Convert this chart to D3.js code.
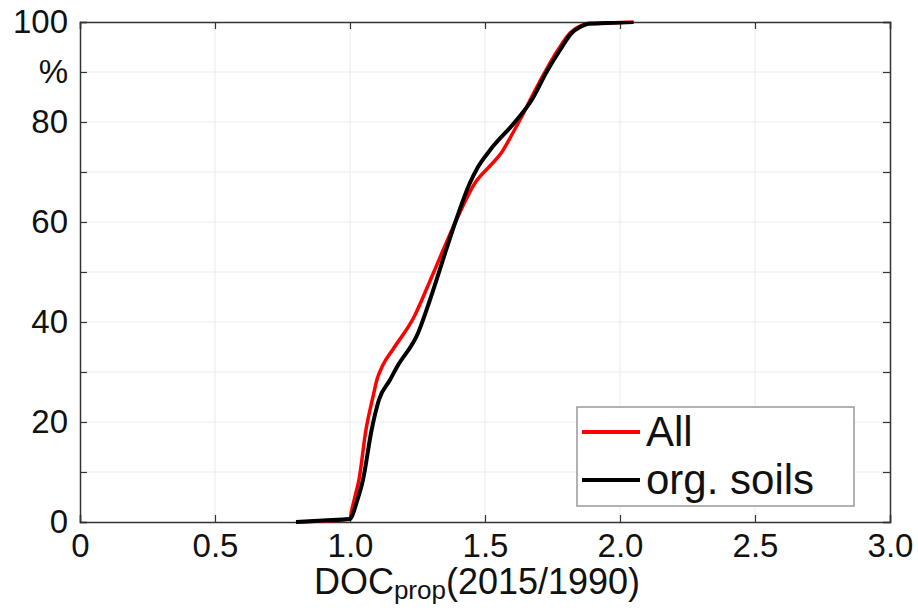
<!DOCTYPE html>
<html>
<head>
<meta charset="utf-8">
<script src="https://cdn.jsdelivr.net/npm/d3@7"></script>
<style>
  body { margin: 0; background: #fff; }
  text { font-family: "Liberation Sans", Arial, sans-serif; fill: #111; }
</style>
</head>
<body>
<svg id="chart" width="918" height="613"></svg>
<script>
// data: x = DOCprop, y = cumulative %
var allX = [0.80, 0.90, 1.00, 1.005, 1.018, 1.033, 1.059, 1.085, 1.10, 1.12, 1.16, 1.237, 1.293, 1.345, 1.389, 1.463, 1.52, 1.56, 1.60, 1.64, 1.667, 1.722, 1.77, 1.815, 1.845, 1.88, 1.95, 2.05];
var allY = [0, 0.2, 0.6, 2, 5, 8.4, 18.4, 25, 28.5, 31.2, 34.6, 41, 47.8, 54.4, 59.8, 67.8, 71.3, 73.8, 77.5, 81.5, 84.4, 90, 94.4, 97.8, 99, 99.6, 99.8, 100];

var orgX = [0.80, 0.90, 1.00, 1.01, 1.025, 1.048, 1.08, 1.107, 1.148, 1.174, 1.252, 1.296, 1.356, 1.389, 1.444, 1.474, 1.519, 1.611, 1.673, 1.728, 1.778, 1.821, 1.852, 1.889, 1.95, 2.05];
var orgY = [0, 0.3, 0.6, 1.5, 4, 8.4, 18.4, 24.4, 28.4, 31, 37.8, 44.4, 54.4, 59.8, 67.8, 71, 74.4, 80, 84.4, 90, 94.4, 97.8, 99, 99.7, 99.8, 100];

var xTicks = [0, 0.5, 1.0, 1.5, 2.0, 2.5, 3.0];
var xTickLabels = ["0", "0.5", "1.0", "1.5", "2.0", "2.5", "3.0"];
var yTicks = [0, 10, 20, 30, 40, 50, 60, 70, 80, 90, 100];
var yTickLabels = ["0", "", "20", "", "40", "", "60", "", "80", "%", "100"];

var seriesNames = ["All", "org. soils"];
var seriesColors = ["#ff0000", "#000000"];

var svg = d3.select("#chart");
var pLeft = 80, pRight = 890, pTop = 22, pBottom = 522;

var x = d3.scaleLinear().domain([0, 3]).range([pLeft, pRight]);
var y = d3.scaleLinear().domain([0, 100]).range([pBottom, pTop]);

// grid
svg.append("g").selectAll("line").data(xTicks.slice(1, -1)).enter().append("line")
  .attr("x1", function(d) { return x(d); }).attr("x2", function(d) { return x(d); })
  .attr("y1", pTop).attr("y2", pBottom)
  .attr("stroke", "#ebebeb").attr("stroke-width", 1);
svg.append("g").selectAll("line").data(yTicks.slice(1, -1)).enter().append("line")
  .attr("y1", function(d) { return y(d); }).attr("y2", function(d) { return y(d); })
  .attr("x1", pLeft).attr("x2", pRight)
  .attr("stroke", "#ebebeb").attr("stroke-width", 1);

// axes
var xAxis = d3.axisBottom(x).tickValues(xTicks).tickSize(-7).tickPadding(12)
  .tickFormat(function(d, i) { return xTickLabels[i]; });
var yAxis = d3.axisLeft(y).tickValues(yTicks).tickSize(-7).tickPadding(12)
  .tickFormat(function(d, i) { return yTickLabels[i]; });

svg.append("g").attr("transform", "translate(0," + pTop + ")")
  .call(d3.axisTop(x).tickValues(xTicks).tickSize(-7).tickFormat(""));
svg.append("g").attr("transform", "translate(" + pRight + ",0)")
  .call(d3.axisRight(y).tickValues(yTicks).tickSize(-7).tickFormat(""));
svg.append("g").attr("transform", "translate(0," + pBottom + ")").call(xAxis);
svg.append("g").attr("transform", "translate(" + pLeft + ",0)").call(yAxis);

svg.selectAll(".domain").attr("stroke", "#333").attr("stroke-width", 1.5);
svg.selectAll(".tick line").attr("stroke", "#333").attr("stroke-width", 1.2);
svg.selectAll(".tick text").attr("font-size", 33).attr("fill", "#111")
  .attr("font-family", "Liberation Sans, Arial, sans-serif");

// curves
var line = d3.line()
  .x(function(d) { return x(d[0]); })
  .y(function(d) { return y(d[1]); })
  .curve(d3.curveMonotoneX);

var allData = d3.zip(allX, allY);
var orgData = d3.zip(orgX, orgY);

svg.append("path").datum(allData).attr("d", line)
  .attr("fill", "none").attr("stroke", seriesColors[0]).attr("stroke-width", 3.5);
svg.append("path").datum(orgData).attr("d", line)
  .attr("fill", "none").attr("stroke", seriesColors[1]).attr("stroke-width", 4);

// x label
var xl = svg.append("text").attr("x", 477).attr("y", 594)
  .attr("text-anchor", "middle").attr("font-size", 36);
xl.append("tspan").text("DOC");
xl.append("tspan").attr("font-size", 26).attr("dy", 5).text("prop");
xl.append("tspan").attr("dy", -5).text("(2015/1990)");

// legend
var lg = svg.append("g");
lg.append("rect").attr("x", 577).attr("y", 407).attr("width", 277).attr("height", 99)
  .attr("fill", "#fff").attr("stroke", "#999").attr("stroke-width", 1.5);
var items = lg.selectAll(".item").data(seriesNames).enter().append("g")
  .attr("transform", function(d, i) { return "translate(0," + (432 + i * 48) + ")"; });
items.append("line").attr("x1", 582).attr("x2", 640).attr("y1", 0).attr("y2", 0)
  .attr("stroke", function(d, i) { return seriesColors[i]; }).attr("stroke-width", 4);
items.append("text").attr("x", 646).attr("y", 14).attr("font-size", 42)
  .text(function(d) { return d; });
</script>
</body>
</html>
